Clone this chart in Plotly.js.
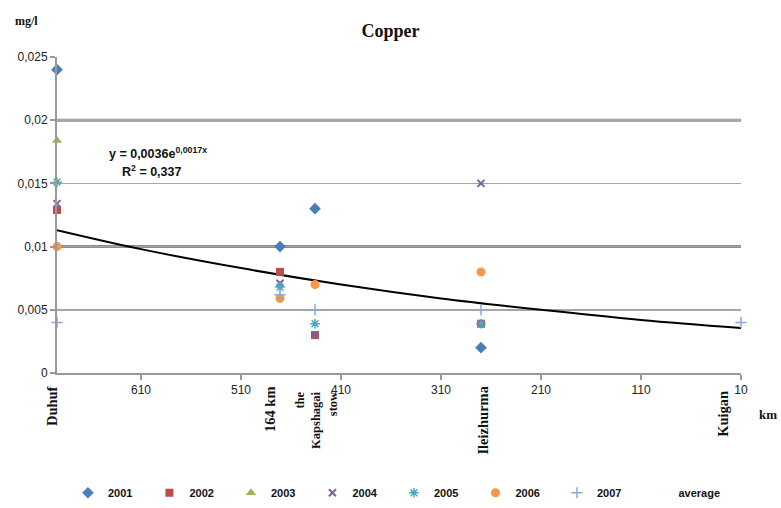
<!DOCTYPE html>
<html>
<head>
<meta charset="utf-8">
<script src="https://cdn.plot.ly/plotly-3.0.1.min.js"></script>
<style>html,body{margin:0;padding:0;background:#fff;}#chart{width:781px;height:508px;}</style>
</head>
<body>
<div id="chart"></div>
<script>
// Locations (distance, km) and their names
const siteKm = [694, 471, 436, 270, 10];
const siteNames = ["Duhuf", "164 km", "the<br>Kapshagai<br>stow", "Ileizhurma", "Kuigan"];

// Copper, mg/l per year (null = no value)
const v2001 = [0.024, 0.010, 0.013, 0.002, null];
const v2002 = [0.0129, 0.0080, 0.0030, 0.0039, null];
const v2003 = [0.0184, null, null, null, null];
const v2004 = [0.0134, 0.0071, 0.0030, 0.0150, null];
const v2005 = [0.0151, 0.0068, 0.0039, 0.0039, null];
const v2006 = [0.0100, 0.0059, 0.0070, 0.0080, null];
const v2007 = [0.0040, 0.0062, 0.0050, 0.0050, 0.0040];

// Exponential trend line
const trendKm = [694, 610, 510, 410, 310, 210, 110, 10];
const trendVal = [0.0113, 0.0098, 0.0083, 0.0070, 0.0059, 0.0050, 0.0042, 0.00356];

const yTicks = [0, 0.005, 0.01, 0.015, 0.02, 0.025];
const yTickText = ["0", "0,005", "0,01", "0,015", "0,02", "0,025"];

const series = [
  {name: "2001", y: v2001, color: "#4a7ebb", symbol: "diamond", size: 9},
  {name: "2002", y: v2002, color: "#be4b48", symbol: "square", size: 8},
  {name: "2003", y: v2003, color: "#98b954", symbol: "triangle-up", size: 9},
  {name: "2004", y: v2004, color: "#7d60a0", symbol: "x-thin-open", size: 7, line: 2},
  {name: "2005", y: v2005, color: "#46aac5", symbol: "asterisk-open", size: 8, line: 1.5},
  {name: "2006", y: v2006, color: "#f79646", symbol: "circle", size: 9},
  {name: "2007", y: v2007, color: "#8aa8d8", symbol: "cross-thin-open", size: 8, line: 1.5}
];

const traces = series.map(s => ({
  type: "scatter", mode: "markers", name: s.name,
  x: siteKm, y: s.y,
  marker: {color: s.color, symbol: s.symbol, size: s.size,
           line: s.line ? {color: s.color, width: s.line} : {width: 0}},
  cliponaxis: false
}));

traces.unshift({
  type: "scatter", mode: "lines", name: "trend", showlegend: false,
  x: trendKm, y: trendVal, line: {color: "#000", width: 2, shape: "spline"},
  hoverinfo: "skip"
});

traces.push({
  type: "scatter", mode: "markers", name: "average",
  x: [null], y: [null], marker: {opacity: 0, size: 1}
});

const labelFont = {family: "Liberation Serif", size: 14.5, color: "#111"};
const annotations = siteNames.map((n, i) => ({
  x: siteKm[i], xref: "x", y: -0.035, yref: "paper",
  text: "<b>" + n + "</b>", textangle: -90, showarrow: false,
  xanchor: "center", yanchor: "top", align: "right",
  font: labelFont
}));
annotations[0].xshift = -5;
annotations[1].xshift = -10;
annotations[2].y = -0.055;
annotations[2].xshift = 2;
annotations[2].font = {family: "Liberation Serif", size: 12.5, color: "#111"};
annotations[3].xshift = 2;
annotations[4].xshift = -18;
annotations[4].y = -0.05;

annotations.push(
  {xref: "paper", yref: "paper", x: -0.065, y: 1.115, xanchor: "left", yanchor: "middle",
   text: "<b>mg/l</b>", showarrow: false, font: {family: "Liberation Serif", size: 12, color: "#111"}},
  {xref: "paper", yref: "paper", x: 1.055, y: -0.13, xanchor: "right", yanchor: "middle",
   text: "<b>km</b>", showarrow: false, font: {family: "Liberation Serif", size: 13, color: "#111"}},
  {xref: "paper", yref: "paper", x: 0.073, y: 0.695, xanchor: "left", yanchor: "middle",
   text: "<b>y = 0,0036e<sup>0,0017x</sup></b>", showarrow: false,
   font: {family: "Liberation Sans", size: 12.5, color: "#111"}},
  {xref: "paper", yref: "paper", x: 0.092, y: 0.64, xanchor: "left", yanchor: "middle",
   text: "<b>R<sup>2</sup> = 0,337</b>", showarrow: false,
   font: {family: "Liberation Sans", size: 12.5, color: "#111"}}
);

const layout = {
  width: 781, height: 508,
  margin: {l: 57, r: 40, t: 57, b: 135},
  paper_bgcolor: "#fff", plot_bgcolor: "#fff",
  separators: ", ",
  title: {text: "<b>Copper</b>", x: 0.5, xanchor: "center", y: 0.94, yanchor: "middle",
          font: {family: "Liberation Serif", size: 18, color: "#111"}},
  xaxis: {
    range: [694, 10], tick0: 10, dtick: 100, tickmode: "linear",
    showgrid: false, zeroline: false,
    showline: true, linecolor: "#999", linewidth: 2,
    ticks: "outside", ticklen: 5, tickcolor: "#999", tickwidth: 2,
    tickfont: {family: "Liberation Sans", size: 12, color: "#222"}
  },
  yaxis: {
    range: [0, 0.025], tickmode: "array", tickvals: yTicks, ticktext: yTickText,
    showgrid: true, gridcolor: "#a6a6a6", gridwidth: 1.5, zeroline: false,
    showline: true, linecolor: "#999", linewidth: 2,
    ticks: "outside", ticklen: 5, tickcolor: "#999", tickwidth: 2,
    tickfont: {family: "Liberation Sans", size: 12, color: "#222"}
  },
  shapes: [0.02, 0.01].map(v => ({
    type: "line", xref: "paper", x0: 0, x1: 1, yref: "y", y0: v, y1: v,
    line: {color: "#8c8c8c", width: 3}, layer: "below"
  })),
  showlegend: true,
  legend: {orientation: "h", xref: "container", yref: "container",
           x: 0.087, xanchor: "left", y: 0.03, yanchor: "middle",
           entrywidth: 36.5, entrywidthmode: "pixels", itemwidth: 30,
           font: {family: "Liberation Sans", size: 11, color: "#111", weight: "bold"}, tracegroupgap: 0},
  annotations: annotations
};

Plotly.newPlot("chart", traces, layout, {displayModeBar: false, staticPlot: true});
</script>
</body>
</html>
